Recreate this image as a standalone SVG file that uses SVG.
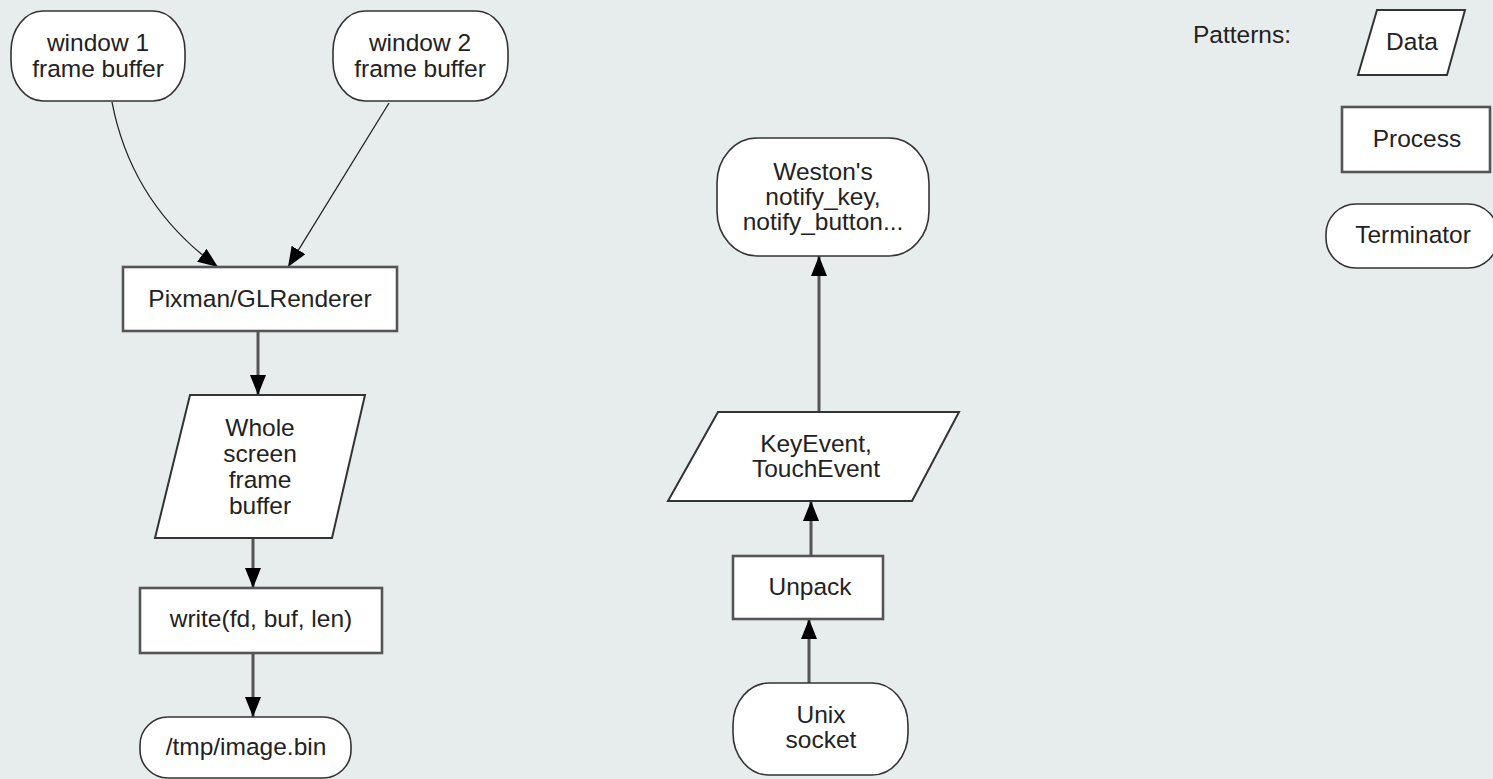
<svg xmlns="http://www.w3.org/2000/svg" width="1493" height="779" viewBox="0 0 1493 779">
<style>
text{font-family:"Liberation Sans",Arial,sans-serif;font-size:24.5px;fill:#222;text-anchor:middle}
.term{fill:#fff;stroke:#333;stroke-width:1.6}
.proc{fill:#fff;stroke:#555;stroke-width:2.6}
.data{fill:#fff;stroke:#333;stroke-width:2}
.thin{fill:none;stroke:#222;stroke-width:1.3}
.thick{fill:none;stroke:#555;stroke-width:3}
</style>
<defs>
<marker id="ah" viewBox="0 0 20 16" refX="20" refY="8" markerWidth="20" markerHeight="16" markerUnits="userSpaceOnUse" orient="auto">
<path d="M0,0 L20,8 L0,16 z" fill="#000"/>
</marker>
</defs>
<rect width="1493" height="779" fill="#e7eded"/>
<g id="connectors">
<path class="thin" d="M112,102 C125,170 160,225 218,267" marker-end="url(#ah)"/>
<path class="thin" d="M389,103 L288,267" marker-end="url(#ah)"/>
<path class="thick" d="M258,331 L258,395" marker-end="url(#ah)"/>
<path class="thick" d="M253,538 L253,588" marker-end="url(#ah)"/>
<path class="thick" d="M253,653 L253,717" marker-end="url(#ah)"/>
<path class="thick" d="M819,412 L819,256" marker-end="url(#ah)"/>
<path class="thick" d="M811,556 L811,501" marker-end="url(#ah)"/>
<path class="thick" d="M809,683 L809,619" marker-end="url(#ah)"/>
</g>
<g id="window1">
<rect class="term" x="11" y="11" width="174" height="90" rx="32" ry="40"/>
<text x="98" y="51">window 1</text>
<text x="98" y="77">frame buffer</text>
</g>
<g id="window2">
<rect class="term" x="333" y="11" width="175" height="90" rx="32" ry="40"/>
<text x="420" y="51">window 2</text>
<text x="420" y="77">frame buffer</text>
</g>
<g id="renderer">
<rect class="proc" x="123" y="267" width="274" height="64"/>
<text x="260" y="307">Pixman/GLRenderer</text>
</g>
<g id="wholescreen">
<polygon class="data" points="190,395 365,395 332,538 155,538"/>
<text x="260" y="436">Whole</text>
<text x="260" y="462">screen</text>
<text x="260" y="488">frame</text>
<text x="260" y="514">buffer</text>
</g>
<g id="write">
<rect class="proc" x="140" y="588" width="242" height="65"/>
<text x="261" y="627">write(fd, buf, len)</text>
</g>
<g id="imagebin">
<rect class="term" x="140" y="717" width="211" height="61" rx="28" ry="28"/>
<text x="246" y="755">/tmp/image.bin</text>
</g>
<g id="weston">
<rect class="term" x="717" y="138" width="212" height="118" rx="40" ry="45"/>
<text x="823" y="180">Weston's</text>
<text x="823" y="205">notify_key,</text>
<text x="823" y="230">notify_button...</text>
</g>
<g id="keyevent">
<polygon class="data" points="718,412 959,412 912,501 668,501"/>
<text x="816" y="452">KeyEvent,</text>
<text x="816" y="477">TouchEvent</text>
</g>
<g id="unpack">
<rect class="proc" x="733" y="556" width="150" height="63"/>
<text x="810" y="595">Unpack</text>
</g>
<g id="unixsocket">
<rect class="term" x="733" y="683" width="175" height="92" rx="36" ry="42"/>
<text x="821" y="723">Unix</text>
<text x="821" y="748">socket</text>
</g>
<g id="legend">
<text x="1193" y="43" style="text-anchor:start">Patterns:</text>
<g id="legend-data">
<polygon class="data" points="1377,10 1465,10 1447,75 1358,75"/>
<text x="1412" y="50">Data</text>
</g>
<g id="legend-process">
<rect class="proc" x="1342" y="107" width="148" height="65"/>
<text x="1417" y="147">Process</text>
</g>
<g id="legend-terminator">
<rect class="term" x="1326" y="204" width="172" height="64" rx="30" ry="30"/>
<text x="1413" y="243">Terminator</text>
</g>
</g>
</svg>
